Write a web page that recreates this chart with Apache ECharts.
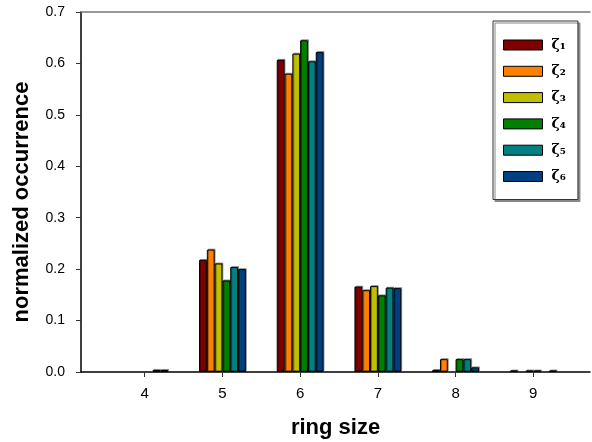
<!DOCTYPE html>
<html>
<head>
  <meta charset="UTF-8">
  <title>ring size</title>
  <script src="https://cdn.jsdelivr.net/npm/echarts/dist/echarts.min.js"></script>
  <style>
    html, body { margin: 0; padding: 0; background: #fff; }
    #main { width: 592px; height: 442px; }
  </style>
</head>
<body>
  <div id="main"></div>
  <script>
    // ring sizes on the x axis
    const ringSizes = [4, 5, 6, 7, 8, 9];
    const seriesNames = ['ζ₁', 'ζ₂', 'ζ₃', 'ζ₄', 'ζ₅', 'ζ₆'];
    const zeta1 = [0, 0.218, 0.607, 0.166, 0.004, 0.003];
    const zeta2 = [0, 0.238, 0.580, 0.159, 0.025, 0];
    const zeta3 = [0, 0.211, 0.619, 0.167, 0, 0.003];
    const zeta4 = [0, 0.178, 0.645, 0.149, 0.025, 0.003];
    const zeta5 = [0.004, 0.204, 0.604, 0.164, 0.025, 0];
    const zeta6 = [0.004, 0.200, 0.622, 0.163, 0.009, 0.003];
    const yTicks = [0, 0.1, 0.2, 0.3, 0.4, 0.5, 0.6, 0.7];

    const colors = ['#800000', '#ff8000', '#c0c000', '#008000', '#008080', '#004080'];
    const allValues = [zeta1, zeta2, zeta3, zeta4, zeta5, zeta6];

    const chart = echarts.init(document.getElementById('main'));

    // zero values are not drawn at all
    const series = allValues.map((vals, i) => ({
      name: seriesNames[i],
      type: 'bar',
      xAxisIndex: 0,
      barWidth: 7.8,
      barGap: '0%',
      itemStyle: {
        color: colors[i],
        borderColor: '#000',
        borderWidth: 1,
        shadowColor: 'rgba(0,0,0,0.35)',
        shadowOffsetX: 1,
        shadowOffsetY: -1
      },
      data: ringSizes.map((r, j) => [r, vals[j] === 0 ? '-' : vals[j]])
    }));

    const option = {
      animation: false,
      color: colors,
      textStyle: { fontFamily: 'Liberation Sans, Arial, sans-serif' },
      grid: { left: 81, right: 2, top: 12, bottom: 70, outerBoundsMode: 'none' },
      legend: {
        orient: 'vertical',
        left: 493,
        top: 21,
        itemWidth: 39,
        itemHeight: 10,
        itemGap: 10.3,
        padding: [16, 12, 15, 10],
        borderColor: '#333',
        borderWidth: 1,
        shadowColor: '#888',
        shadowOffsetX: 2,
        shadowOffsetY: 2,
        backgroundColor: '#fff',
        icon: 'rect',
        itemStyle: { borderColor: '#000', borderWidth: 1 },
        textStyle: {
          fontFamily: 'DejaVu Serif, serif',
          fontWeight: 'bold',
          fontSize: 14,
          lineHeight: 16,
          color: '#000',
          padding: [0, 0, 0, 4]
        },
        data: seriesNames
      },
      xAxis: [
        {
          type: 'value',
          min: 3.18,
          max: 9.73,
          name: 'ring size',
          nameLocation: 'middle',
          nameGap: 45,
          nameTextStyle: { fontSize: 22, fontWeight: 'bold', color: '#000' },
          splitLine: { show: false },
          axisLine: { lineStyle: { color: '#000', width: 1.5 } },
          axisTick: {
            customValues: ringSizes,
            length: 5,
            lineStyle: { color: '#333' }
          },
          axisLabel: {
            customValues: ringSizes,
            fontSize: 15,
            color: '#000',
            margin: 14
          }
        },
        {
          type: 'value',
          position: 'top',
          min: 3.18,
          max: 9.73,
          axisLine: { show: true, lineStyle: { color: '#777', width: 1.5 } },
          axisTick: { show: false },
          axisLabel: { show: false },
          splitLine: { show: false }
        }
      ],
      yAxis: {
        type: 'value',
        min: 0,
        max: 0.7,
        interval: 0.1,
        name: 'normalized occurrence',
        nameLocation: 'middle',
        nameGap: 48,
        nameTextStyle: { fontSize: 22, fontWeight: 'bold', color: '#000', padding: [0, 20, 0, 0] },
        splitLine: { show: false },
        axisLine: { show: true, lineStyle: { color: '#000', width: 1.5 } },
        axisTick: { show: true, length: 5, lineStyle: { color: '#333' } },
        axisLabel: {
          fontSize: 14,
          color: '#000',
          margin: 16,
          formatter: v => yTicks.includes(Math.round(v * 10) / 10) ? v.toFixed(1) : ''
        }
      },
      series: series
    };

    chart.setOption(option);
  </script>
</body>
</html>
